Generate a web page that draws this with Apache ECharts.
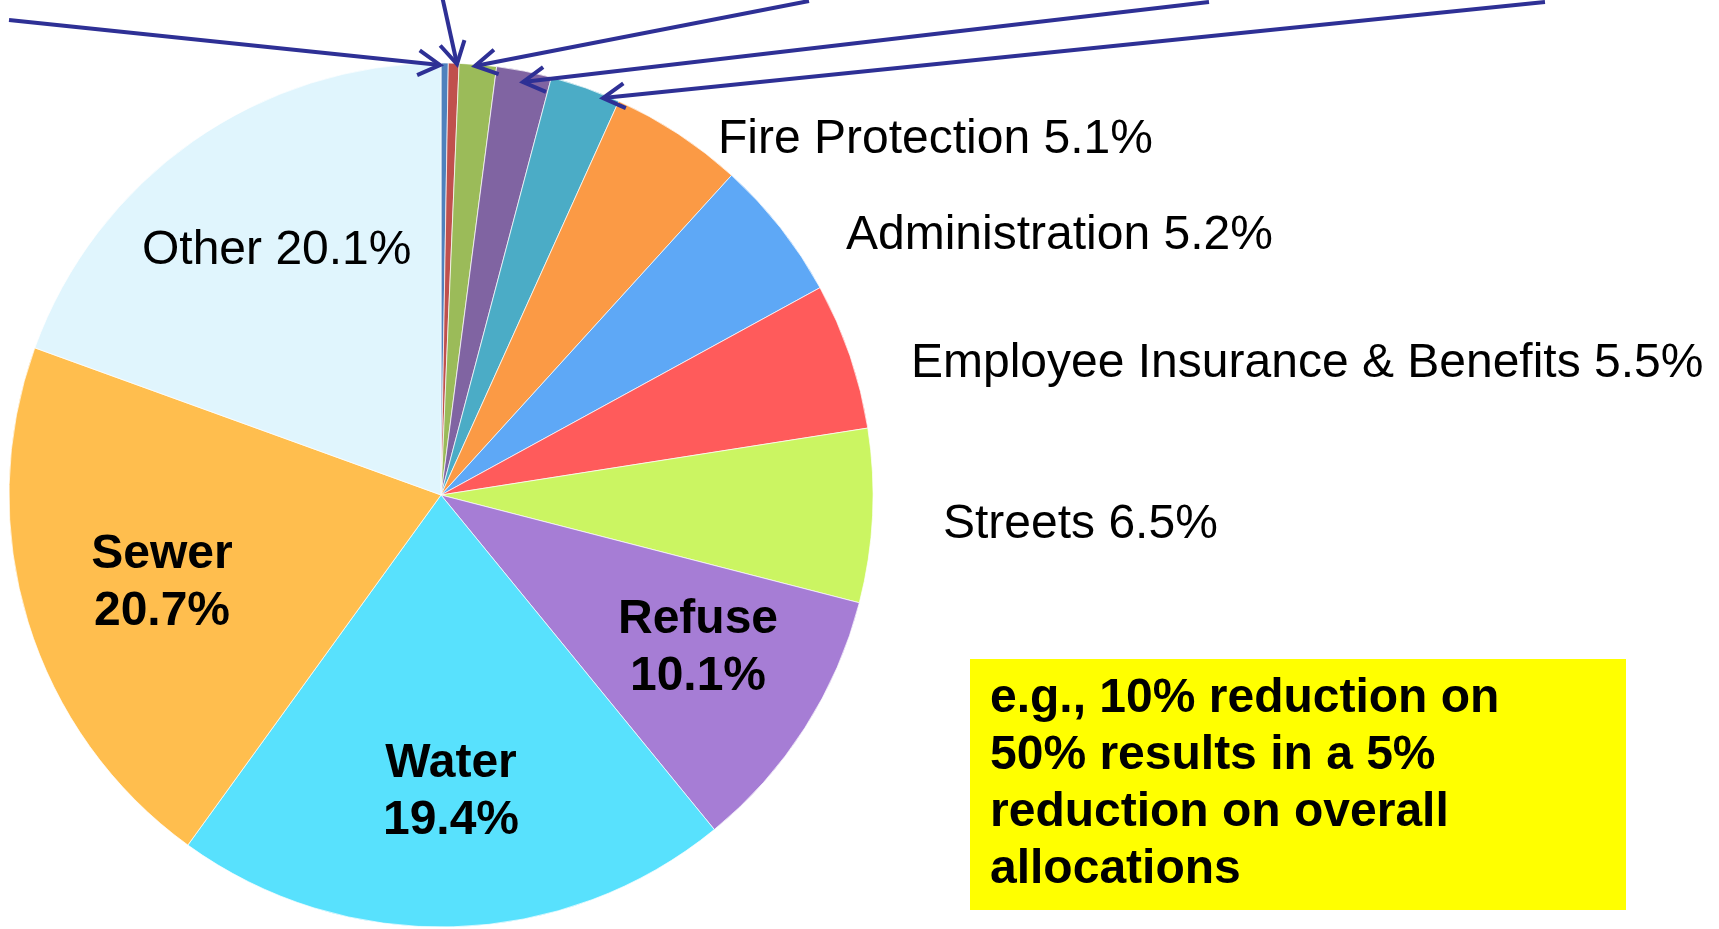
<!DOCTYPE html>
<html>
<head>
<meta charset="utf-8">
<script src="https://cdn.jsdelivr.net/npm/echarts@6/dist/echarts.min.js"></script>
<style>
  html, body { margin: 0; padding: 0; background: #fff; }
  #main { width: 1719px; height: 929px; }
</style>
</head>
<body>
<div id="main"></div>
<script>
// slices, clockwise from 12 o'clock (the five thin ones have their labels cut off above the picture)
const categories = ['', '', '', '', '', 'Fire Protection', 'Administration', 'Employee Insurance & Benefits', 'Streets', 'Refuse', 'Water', 'Sewer', 'Other']
// share of the circle each slice actually takes in the picture (%)
const sliceShares = [0.27, 0.4, 1.39, 2.06, 2.64, 5.0, 5.3, 5.5, 6.5, 10.1, 20.9, 20.6, 19.5]
// percentages printed on the labels
const labelPercents = [null, null, null, null, null, 5.1, 5.2, 5.5, 6.5, 10.1, 19.4, 20.7, 20.1]
const boldLabels = ['Refuse', 'Water', 'Sewer']
const noteLines = ['e.g., 10% reduction on', '50% results in a 5%', 'reduction on overall', 'allocations']

const colors = ['#4f81bd', '#c0504d', '#9bbb59', '#8064a2', '#4bacc6', '#fb9a45', '#5ea8f6', '#ff5b5b',
  '#cbf562', '#a67dd5', '#58e1fd', '#ffbe4e', '#e0f5fd']
const textFont = "'Liberation Sans', Arial, sans-serif"
const arrowColor = '#2e3095'

// where each label sits (middle of the text block)
const labelPos = {
  5: { x: 718, y: 140, align: 'left' },
  6: { x: 846, y: 236, align: 'left' },
  7: { x: 911, y: 364, align: 'left' },
  8: { x: 943, y: 525, align: 'left' },
  9: { x: 698, y: 648, align: 'center' },
  10: { x: 451, y: 792, align: 'center' },
  11: { x: 162, y: 583, align: 'center' },
  12: { x: 142, y: 251, align: 'left' }
}

// pointer arrows from the (cropped) labels above down to the thin slices
const arrows = [
  [9, 20, 440, 65],
  [442, -4, 457, 64],
  [809, 1, 475, 66],
  [1209, 2, 523, 82],
  [1545, 2, 603, 98]
]

const pieData = categories.map((name, i) => {
  const bold = boldLabels.includes(name)
  return {
    name: name,
    value: sliceShares[i],
    itemStyle: { color: colors[i] },
    label: {
      show: labelPercents[i] != null,
      fontWeight: bold ? 'bold' : 'normal',
      formatter: bold ? name + '\n' + labelPercents[i] + '%' : name + ' ' + labelPercents[i] + '%'
    }
  }
})

const graphics = []
arrows.forEach(a => {
  const [x0, y0, x1, y1] = a
  const ang = Math.atan2(y0 - y1, x0 - x1)
  const len = 25
  const spread = 0.52
  graphics.push({
    type: 'line',
    shape: { x1: x0, y1: y0, x2: x1, y2: y1 },
    style: { stroke: arrowColor, lineWidth: 4 },
    z: 10
  })
  graphics.push({
    type: 'polyline',
    shape: {
      points: [
        [x1 + len * Math.cos(ang + spread), y1 + len * Math.sin(ang + spread)],
        [x1, y1],
        [x1 + len * Math.cos(ang - spread), y1 + len * Math.sin(ang - spread)]
      ]
    },
    style: { stroke: arrowColor, lineWidth: 4, fill: null },
    z: 10
  })
})
graphics.push({
  type: 'rect',
  shape: { x: 970, y: 659, width: 656, height: 251 },
  style: { fill: '#ffff00' },
  z: 5
})
graphics.push({
  type: 'text',
  x: 990,
  y: 670,
  style: {
    text: noteLines.join('\n'),
    font: 'bold 48px ' + textFont,
    lineHeight: 57,
    fill: '#000',
    verticalAlign: 'top'
  },
  z: 6
})

const myChart = echarts.init(document.getElementById('main'))
const option = {
  animation: false,
  backgroundColor: '#fff',
  series: [
    {
      type: 'pie',
      center: [441, 495],
      radius: 432,
      startAngle: 90,
      clockwise: true,
      data: pieData,
      itemStyle: {
        borderColor: 'rgba(255,255,255,0.7)',
        borderWidth: 1
      },
      label: {
        position: 'inside',
        color: '#000',
        fontSize: 48,
        fontFamily: textFont,
        lineHeight: 57
      },
      labelLine: { show: false },
      labelLayout: function (params) {
        const p = labelPos[params.dataIndex]
        if (!p) return {}
        return { x: p.x, y: p.y, align: p.align, verticalAlign: 'middle' }
      },
      emphasis: { disabled: true },
      silent: true
    }
  ],
  graphic: { elements: graphics }
}
myChart.setOption(option)
</script>
</body>
</html>
